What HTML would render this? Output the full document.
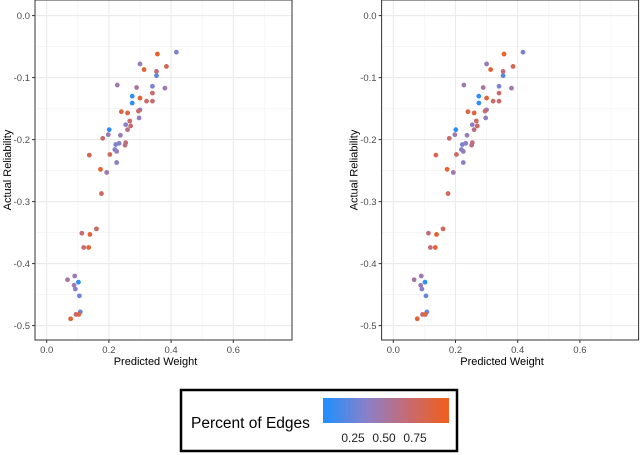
<!DOCTYPE html>
<html><head><meta charset="utf-8"><style>
html,body{margin:0;padding:0;background:#fff;width:640px;height:455px;overflow:hidden}
svg{display:block;font-family:"Liberation Sans",sans-serif}
</style></head><body>
<svg id="chart" width="640" height="455">
<defs>
<linearGradient id="grad" x1="0" x2="1" y1="0" y2="0">
<stop offset="0" stop-color="#1E90FF"/><stop offset="0.35" stop-color="#8A80C8"/><stop offset="0.65" stop-color="#C26C78"/><stop offset="1" stop-color="#F05F1A"/>
</linearGradient>
</defs>
<g id="panels"></g>
<g>
<rect x="181" y="390" width="276" height="61" fill="#fff" stroke="#000" stroke-width="2.5"/>
<text x="191" y="428" font-size="15.5" fill="#000">Percent of Edges</text>
<rect x="323" y="398" width="126" height="25" fill="url(#grad)"/>
<text x="353" y="442" font-size="12" fill="#222" text-anchor="middle">0.25</text>
<text x="384" y="442" font-size="12" fill="#222" text-anchor="middle">0.50</text>
<text x="415" y="442" font-size="12" fill="#222" text-anchor="middle">0.75</text>
</g>
</svg>
<script>
const xs=[.417,.356,.30,.313,.385,.353,.353,.227,.289,.34,.38,.34,.275,.30,.321,.34,.275,.30,.24,.26,.295,.297,.267,.254,.27,.26,.201,.198,.237,.18,.254,.252,.222,.233,.219,.225,.203,.137,.225,.173,.193,.176,.16,.113,.139,.119,.135,.09,.067,.102,.088,.092,.105,.108,.094,.103,.077];
const ys=[-.059,-.062,-.078,-.087,-.082,-.09,-.097,-.112,-.116,-.114,-.117,-.125,-.13,-.133,-.138,-.138,-.141,-.152,-.155,-.157,-.154,-.165,-.17,-.176,-.178,-.184,-.184,-.192,-.193,-.198,-.205,-.209,-.208,-.206,-.216,-.219,-.224,-.225,-.237,-.248,-.253,-.287,-.344,-.351,-.353,-.374,-.374,-.42,-.426,-.43,-.435,-.441,-.452,-.478,-.482,-.482,-.489];
const pct=[.3,.95,.4,.9,.8,.65,.2,.45,.5,.3,.45,.7,.05,.9,.7,.7,.05,.35,.85,.85,.7,.4,.7,.35,.7,.6,.05,.45,.4,.7,.65,.6,.3,.35,.35,.4,.75,.8,.35,.9,.45,.75,.75,.65,.9,.65,.9,.45,.5,.05,.45,.35,.25,.25,.7,.85,.9];
const xTicks=[0,0.2,0.4,0.6];
const yTicks=[0,-0.1,-0.2,-0.3,-0.4,-0.5];
const NS="http://www.w3.org/2000/svg";
const stops=[[0,[30,144,255]],[0.35,[138,128,200]],[0.65,[194,108,120]],[1,[240,95,26]]];
function col(t){for(let i=1;i<stops.length;i++){if(t<=stops[i][0]){const a=stops[i-1],b=stops[i];const f=(t-a[0])/(b[0]-a[0]);return 'rgb('+a[1].map((v,k)=>Math.round(v+(b[1][k]-v)*f)).join(',')+')';}}return 'rgb(240,95,26)';}
function mk(tag,at,parent){const e=document.createElementNS(NS,tag);for(const k in at)e.setAttribute(k,at[k]);parent.appendChild(e);return e;}
const root=document.getElementById('panels');
function panel(off,idx){
const g=mk('g',{},root);


const L=35+off,R=292+off,T=0,B=340;
const sx=v=>46.7+off+v*311;
const sy=v=>15.6-v*620;
mk('rect',{x:L,y:T,width:R-L,height:B-T,fill:'#fff'},g);
for(let v=-0.55;v<=0.05;v+=0.1){const y=sy(v);if(y>T&&y<B)mk('line',{x1:L,x2:R,y1:y,y2:y,stroke:'#f2f2f2','stroke-width':0.6},g);}
for(let v=0.1;v<0.8;v+=0.2){const x=sx(v);if(x<R)mk('line',{x1:x,x2:x,y1:T,y2:B,stroke:'#f2f2f2','stroke-width':0.6},g);}
yTicks.forEach(v=>{const y=sy(v);mk('line',{x1:L,x2:R,y1:y,y2:y,stroke:'#ebebeb','stroke-width':1.1},g);
mk('line',{x1:L-3,x2:L,y1:y,y2:y,stroke:'#333','stroke-width':1},g);
const t=mk('text',{x:L-5,y:y+3.5,'font-size':9.5,fill:'#4d4d4d','text-anchor':'end'},g);t.textContent=v.toFixed(1);

});
xTicks.forEach(v=>{const x=sx(v);mk('line',{x1:x,x2:x,y1:T,y2:B,stroke:'#ebebeb','stroke-width':1.1},g);
mk('line',{x1:x,x2:x,y1:B,y2:B+3,stroke:'#333','stroke-width':1},g);
const t=mk('text',{x:x,y:B+13,'font-size':9.5,fill:'#4d4d4d','text-anchor':'middle'},g);t.textContent=v.toFixed(1);

});
xs.forEach((v,i)=>{const c=mk('circle',{cx:sx(v),cy:sy(ys[i]),r:2.4,fill:col(pct[i])},g);

});
mk('rect',{x:L,y:T,width:R-L,height:B-T,fill:'none',stroke:'#333','stroke-width':1},g);
const xt=mk('text',{x:(L+R)/2-8,y:365,'font-size':11,fill:'#000','text-anchor':'middle'},g);xt.textContent='Predicted Weight';


const yt=mk('text',{x:0,y:0,'font-size':11,fill:'#000','text-anchor':'middle',transform:'translate('+(11+off)+',170) rotate(-90)'},g);yt.textContent='Actual Reliability';


}
panel(0,'left');
panel(346.6,'right');
</script>
</body></html>
